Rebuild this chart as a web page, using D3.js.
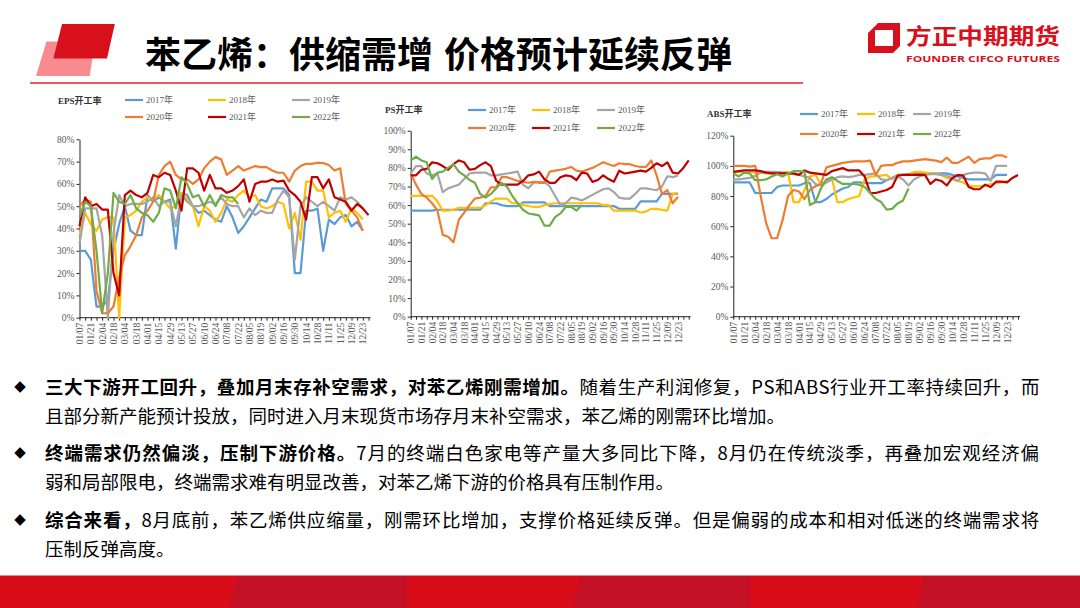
<!DOCTYPE html>
<html>
<head>
<meta charset="utf-8">
<script src="https://cdn.jsdelivr.net/npm/d3@7/dist/d3.min.js"></script>
<style>
  html, body { margin: 0; padding: 0; background: #fff; }
  svg { display: block; }
</style>
</head>
<body>
<svg id="slide" width="1080" height="608"></svg>
<script>
// weekly categories (labels shown every second week)
const weeks = ["01/07","01/14","01/21","01/28","02/04","02/11","02/18","02/25","03/04","03/11","03/18","03/25",
  "04/01","04/08","04/15","04/22","04/29","05/06","05/13","05/20","05/27","06/03","06/10","06/17","06/24",
  "07/01","07/08","07/15","07/22","07/29","08/05","08/12","08/19","08/26","09/02","09/09","09/16","09/23",
  "09/30","10/07","10/14","10/21","10/28","11/04","11/11","11/18","11/25","12/02","12/09","12/16","12/23","12/30"];
// PS / ABS have one extra (53rd) week slot
const weeks53 = weeks.concat(["01/06"]);
const tickWeeks = weeks.filter((d, i) => i % 2 === 0);

const years = ["2017年", "2018年", "2019年", "2020年", "2021年", "2022年"];

// EPS开工率 (%)
const eps2017 = [30,30,26,5,5,8,30,42,50,39,37,37,55,52,54,52,53,31,56,55,50,47,48,46,44,43,50,45,
  38,41,45,49,53,52,58,58,58,55,20,20,48,48,49,30,44,42,45,46,41,43,39];
const eps2018 = [37,47,42,39,44,45,45,0,45,46,48,52,54,53,55,52,49,50,56,53,50,41,50,48,43,47,53,52,
  55,57,54,55,50,49,50,52,51,40,47,35,61,61,57,57,45,47,48,43,49,47,44];
const eps2019 = [33,49,49,49,37,0,38,55,50,51,51,51,52,54,50,52,52,41,55,52,50,50,51,52,51,54,51,50,
  50,45,49,46,48,47,47,53,57,54,26,50,54,52,50,52,50,48,54,53,54,52,49];
const eps2020 = [50,53,52,12,2,2,5,18,28,32,37,45,48,52,64,68,70,64,62,62,60,62,67,70,72,71,64,66,
  68,66,67,68,67.5,67.5,66,65,65,61,66,68,69,69,69.5,69.3,68.5,66,67,51,48,45,39];
const eps2021 = [41,54,50,51,48.5,48.5,20,10,55,57,55,54,56,64,63,65,64,57,48,67,67,65,57,64,58,58,
  56,57,59,62,52,60,61,61,62,61,61.5,57,55,52,44,63,63,58,62,54,53,52,48,51,49,46];
const eps2022 = [45,52,50,30,2,20,56,52,51,55,49,47,46,43,47,58,57,49,63,60,54,55,50,55,50,55,54,54,51];

// PS开工率 (%)
const ps2017 = [57,57,57,57,57,57.5,57.5,57.5,57.5,57.5,57.5,57.5,57.5,57.5,61,61,61,60,59.5,59.5,59.5,
  61.5,61.5,61.5,61.5,61.5,59.5,59.5,59.5,59.5,59.5,59.5,59.5,59.5,59.5,59.5,59.5,59.5,59.5,
  58,58,58,58,62,62,62,62,66,66,66,66];
const ps2018 = [65,65,65,65,65,62,57,57,57.5,58.5,58.5,58.5,58.5,58.5,60,62,63.5,63.5,63.5,61,
  61,60,59.5,59,59,60,60.5,61,61,61,61,61,61,61,61,61,60,60,57,57,57,57,57,56,56.5,58,58,57.5,57,66,66.5];
const ps2019 = [77,81,81,77,76,77,67,69,70,71,74,77,77.5,77.5,77.5,76,76,76.5,77,77.5,78,71,69,72,72.5,
  72.5,70,65,60,61,64,63.5,62.5,64,65.5,67,68.5,69,67,64,63.5,63.5,66,69,69,68.5,68,70,75.5,75,76];
const ps2020 = [77,71,66,64,61,57,44,43,40,52,56,60,63.5,64,65,69.5,69.5,75,75,74,73,72.5,72,72.5,72,72,
  78,78.5,79,79.5,80.5,78.5,78,79,80,81.5,83,82,81,82.5,82,82,81,80.5,80.5,84,76,66,68,61,64.5];
const ps2021 = [76,76,79,79.5,83,82.5,81,79,82,84,83,79,79.5,81.5,83,81,73,71,71,71,71,73,76,76.5,78,74,
  72,72,75,76,75.5,73.5,77.5,77,72.5,73.5,76,74,72.5,78.5,77,77.5,78,78.5,78,80,82.5,81,83,77.5,77,80,84];
const ps2022 = [84,86,84,83,74,77.5,78,80,82,78,76,73.5,72,66,64,66,69,72,70,65,61,57.5,55.5,55,54.5,
  49,49,53.5,55.5,59,59,57,60];

// ABS开工率 (%)
const abs2017 = [89,89,89,89,82,82,82,82,86,87,87,87,87,88.5,88.5,76,76,78,81,83,85,86,89,89,88.5,88.5,
  88.5,88.5,90.5,92,94,94,94.5,95,95,95,95,95,95,95,94,93,92,91,91,91,91,91,94,94,94];
const abs2018 = [96,96,96,96,95.5,95.5,95,95,95,95.5,96,76,76,84,93,94,88,90,92,76,76,78,79,80,91,93,93,
  93.5,94,91,94,94,94,96,96,95.5,95,95,94,92,91,90,89,87,86.5,86.5,87,88,88.5,89,90];
const abs2019 = [91,91,91.5,92,93.5,95.5,96,96,96,95.5,95,94.5,94,93,92,88,87,89,91,92.5,93,92.5,93,94,94,
  94.5,95,91,90.5,92,93,91,87,91,93,94,94.5,94.5,94,93.5,92,90,94,95,95.5,95.5,95,90,100,100,100];
const abs2020 = [100,100,100,99.5,100,80,62,52,52,64,80,84,83,78,84,86.5,88,99,100,101,102,102.5,103,103,
  103,103.5,94,100,100.5,100.5,102,103,103,103.5,104,104.5,104,103.5,102.5,105.5,102,102,104,106,102,
  104.5,105,105,107,107,105.5];
const abs2021 = [96,96.5,97,97,97,96.5,95.5,95,95,95,95,95,94,97,95.5,95,94.5,94,96.5,97.5,98.5,97,97,97,
  93,82,82,83,84,86,93.5,94,94,94,94,94,88,91,90,87,92,94,93.5,86,84.5,84.5,87.5,86,89.5,89.5,89,92,94];
const abs2022 = [95,93,95.5,95,90.5,90.5,91,93,94.5,93,95,96.5,96.5,96,74,76,85,91,92.5,90,88,88,88,87.5,
  86,82,78,76,71,71.5,75,77,85];

const yearColors = ["#5B9BD5", "#FFC000", "#A5A5A5", "#ED7D31", "#C00000", "#70AD47"];
const serif = "'Liberation Serif','Noto Sans CJK SC',serif";
const cjk = "'Noto Sans CJK SC','Noto Sans',sans-serif";

const svg = d3.select("#slide");
svg.append("rect").attr("width", 1080).attr("height", 608).attr("fill", "#fff");

// ---------- header ----------
svg.append("polygon").attr("points", "36,76 46.5,41.4 95,41.4 89.7,76").attr("fill", "#F78B90");
svg.append("polygon").attr("points", "53.4,58.6 62,24 114.8,24 107,58.6").attr("fill", "#D7101B");
svg.append("text").attr("x", 145).attr("y", 52).attr("dominant-baseline", "central")
  .attr("font-family", cjk).attr("font-weight", 700).attr("font-size", 36).attr("fill", "#000")
  .text("苯乙烯：供缩需增");
svg.append("text").attr("x", 444).attr("y", 52).attr("dominant-baseline", "central")
  .attr("font-family", cjk).attr("font-weight", 700).attr("font-size", 36).attr("fill", "#000")
  .text("价格预计延续反弹");
svg.append("line").attr("x1", 30).attr("x2", 803).attr("y1", 83).attr("y2", 83)
  .attr("stroke", "#E3242B").attr("stroke-width", 1.5);

// logo
svg.append("path")
  .attr("d", "M878,23 L900,23 L900,46 L893,53 L868,53 L868,33 Z M875,30 L893,30 L893,46 L875,46 Z")
  .attr("fill", "#D7101B").attr("fill-rule", "evenodd");
svg.append("text").attr("x", 906).attr("y", 34).attr("dominant-baseline", "central")
  .attr("font-family", cjk).attr("font-weight", 700).attr("font-size", 22).attr("fill", "#D7101B")
  .attr("textLength", 154).attr("lengthAdjust", "spacingAndGlyphs").text("方正中期期货");
svg.append("text").attr("x", 906).attr("y", 58).attr("dominant-baseline", "central")
  .attr("font-family", "'Open Sans','Noto Sans',sans-serif").attr("font-weight", 700).attr("font-size", 9.5)
  .attr("fill", "#D7101B").attr("textLength", 154).attr("lengthAdjust", "spacingAndGlyphs")
  .text("FOUNDER CIFCO FUTURES");

// ---------- charts ----------
const charts = [
  { title: "EPS开工率", series: [eps2017, eps2018, eps2019, eps2020, eps2021, eps2022], domain: weeks,
    yMax: 80, yStep: 10, left: 79.5, right: 368.5, bottom: 317.7, top: 139.3,
    titleX: 58, titleY: 101, legX: [125, 208, 292], legY: [100, 117] },
  { title: "PS开工率", series: [ps2017, ps2018, ps2019, ps2020, ps2021, ps2022], domain: weeks53,
    yMax: 100, yStep: 10, left: 410.7, right: 688.7, bottom: 316.7, top: 130.7,
    titleX: 385, titleY: 110, legX: [468, 532, 597], legY: [110, 128] },
  { title: "ABS开工率", series: [abs2017, abs2018, abs2019, abs2020, abs2021, abs2022], domain: weeks53,
    yMax: 120, yStep: 20, left: 733.3, right: 1018, bottom: 316.7, top: 135.7,
    titleX: 707, titleY: 114, legX: [800, 857, 913], legY: [114, 134] }
];

charts.forEach(cfg => {
  const g = svg.append("g");
  const x = d3.scalePoint().domain(cfg.domain).range([cfg.left, cfg.right]);
  const y = d3.scaleLinear().domain([0, cfg.yMax]).range([cfg.bottom, cfg.top]);

  // y axis
  const yAx = g.append("g").attr("transform", `translate(${cfg.left},0)`)
    .call(d3.axisLeft(y).tickValues(d3.range(0, cfg.yMax + 1, cfg.yStep))
      .tickSize(3).tickSizeOuter(0).tickFormat(d => d + "%"));
  yAx.selectAll("text").attr("font-family", serif).attr("font-size", 9.5).attr("fill", "#595959").attr("x", -5);
  yAx.selectAll("line").attr("stroke", "#222");
  yAx.select(".domain").attr("stroke", "#222");

  // x axis
  const labelSet = new Set(tickWeeks);
  const xAx = g.append("g").attr("transform", `translate(0,${cfg.bottom})`)
    .call(d3.axisBottom(x).tickSize(3).tickSizeOuter(0).tickFormat(d => labelSet.has(d) ? d : ""));
  xAx.select(".domain").attr("stroke", "#222").attr("d", `M${cfg.left},0H${cfg.right + 2}`);
  xAx.selectAll("line").attr("stroke", "#222");
  xAx.selectAll("text")
    .attr("font-family", serif).attr("font-size", 9.5).attr("fill", "#595959")
    .attr("transform", "rotate(-90)").attr("text-anchor", "end")
    .attr("x", -5).attr("y", 0).attr("dy", "0.32em");

  // lines
  cfg.series.forEach((vals, k) => {
    const line = d3.line().x((d, i) => x(cfg.domain[i])).y(d => y(d));
    g.append("path").datum(vals).attr("fill", "none")
      .attr("stroke", yearColors[k]).attr("stroke-width", 2.2)
      .attr("stroke-linejoin", "round").attr("d", line);
  });

  // title
  g.append("text").attr("x", cfg.titleX).attr("y", cfg.titleY).attr("dominant-baseline", "central")
    .attr("font-family", serif).attr("font-weight", 700).attr("font-size", 9).attr("fill", "#333")
    .text(cfg.title);

  // legend
  years.forEach((yr, k) => {
    const lx = cfg.legX[k % 3], ly = cfg.legY[Math.floor(k / 3)];
    g.append("line").attr("x1", lx).attr("x2", lx + 18).attr("y1", ly).attr("y2", ly)
      .attr("stroke", yearColors[k]).attr("stroke-width", 2.2);
    g.append("text").attr("x", lx + 21).attr("y", ly).attr("dominant-baseline", "central")
      .attr("font-family", serif).attr("font-size", 9).attr("fill", "#595959").text(yr);
  });
});

// ---------- bullet text ----------
const paragraphs = [
  { bold: "三大下游开工回升，叠加月末存补空需求，对苯乙烯刚需增加。", rest: "随着生产利润修复，PS和ABS行业开工率持续回升，而",
    next: "且部分新产能预计投放，同时进入月末现货市场存月末补空需求，苯乙烯的刚需环比增加。" },
  { bold: "终端需求仍然偏淡，压制下游价格。", rest: "7月的终端白色家电等产量大多同比下降，8月仍在传统淡季，再叠加宏观经济偏",
    next: "弱和局部限电，终端需求难有明显改善，对苯乙烯下游的价格具有压制作用。" },
  { bold: "综合来看，", rest: "8月底前，苯乙烯供应缩量，刚需环比增加，支撑价格延续反弹。但是偏弱的成本和相对低迷的终端需求将",
    next: "压制反弹高度。" }
];
const paraY = [386, 452, 519];
const lineGap = 29;
const textLeft = 45, textRight = 1040;

paragraphs.forEach((p, k) => {
  const y0 = paraY[k];
  svg.append("text").attr("x", 20).attr("y", y0).attr("dominant-baseline", "central")
    .attr("text-anchor", "middle").attr("font-family", "'DejaVu Sans',sans-serif")
    .attr("font-size", 15).attr("fill", "#000").text("◆");
  const t1 = svg.append("text").attr("x", textLeft).attr("y", y0).attr("dominant-baseline", "central")
    .attr("font-family", cjk).attr("font-size", 18.5).attr("fill", "#000");
  t1.append("tspan").attr("font-weight", 700).text(p.bold);
  t1.append("tspan").attr("font-weight", 400).text(p.rest);
  // justify the first (wrapped) line like the slide does
  const natural = t1.node().getComputedTextLength();
  const nChars = (p.bold + p.rest).length;
  t1.attr("letter-spacing", ((textRight - textLeft - natural) / nChars).toFixed(3));

  svg.append("text").attr("x", textLeft).attr("y", y0 + lineGap).attr("dominant-baseline", "central")
    .attr("font-family", cjk).attr("font-size", 18.5).attr("fill", "#000").text(p.next);
});

// ---------- footer band ----------
svg.append("rect").attr("x", 0).attr("y", 575).attr("width", 1080).attr("height", 33).attr("fill", "#D90D1A");
[[229, 238, 407], [572, 581, 751], [916, 925, 1080]].forEach(s => {
  svg.append("polygon").attr("points", `${s[1]},575 ${s[2]},575 ${s[2]},608 ${s[0]},608`).attr("fill", "#C31024");
});
svg.append("line").attr("x1", 0).attr("x2", 1080).attr("y1", 575.5).attr("y2", 575.5)
  .attr("stroke", "#E58C92").attr("stroke-width", 1);
</script>
</body>
</html>
